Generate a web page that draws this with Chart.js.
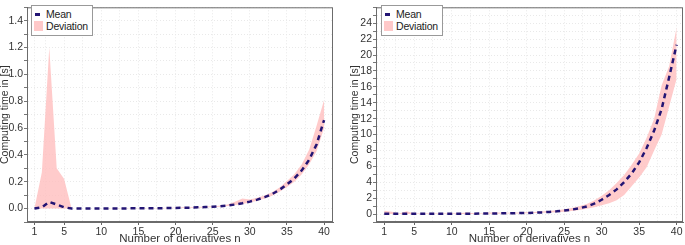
<!DOCTYPE html>
<html>
<head>
<meta charset="utf-8">
<script src="https://cdn.jsdelivr.net/npm/chart.js@4/dist/chart.umd.min.js"></script>
<style>
  body { margin: 0; background: #fff; width: 685px; height: 245px; overflow: hidden; font-family: "Liberation Sans", Arial, sans-serif; }
  .panel { position: absolute; top: 0; height: 245px; }
  .legend { position: absolute; top: 5px; background: #fff; border: 1px solid #999; padding: 2px 4px 3px 2px; font-size: 10.5px; letter-spacing: -0.2px; color: #222; }
  .legend .row { display: flex; align-items: center; height: 12px; }
  .legend .sym { display: inline-block; }
  .legend .dash { height: 3px; width: 5px; background: #231574; margin-left: 1px; margin-right: 6px; }
  .legend .box { height: 10px; width: 9px; background: #ffc9c9; margin-right: 3px; }
</style>
</head>
<body>
<div class="panel" style="left:0;width:340px"><canvas id="left" width="340" height="245"></canvas>
  <div class="legend" style="left:31px"><div class="row"><span class="sym dash"></span>Mean</div><div class="row"><span class="sym box"></span>Deviation</div></div>
</div>
<div class="panel" style="left:340px;width:345px"><canvas id="right" width="345" height="245"></canvas>
  <div class="legend" style="left:41px"><div class="row"><span class="sym dash"></span>Mean</div><div class="row"><span class="sym box"></span>Deviation</div></div>
</div>
<script>
// number of derivatives
const nValues = [1, 2, 3, 4, 5, 6, 7, 8, 9, 10, 11, 12, 13, 14, 15, 16, 17, 18, 19, 20,
                 21, 22, 23, 24, 25, 26, 27, 28, 29, 30, 31, 32, 33, 34, 35, 36, 37, 38, 39, 40];

// left panel
const leftMean = [0.000, 0.010, 0.050, 0.030, 0.010, 0.000, 0.000, 0.000, 0.000, 0.000,
                  0.001, 0.001, 0.001, 0.002, 0.002, 0.002, 0.003, 0.003, 0.004, 0.005,
                  0.006, 0.007, 0.009, 0.011, 0.014, 0.018, 0.023, 0.030, 0.040, 0.052,
                  0.067, 0.085, 0.108, 0.140, 0.180, 0.225, 0.285, 0.365, 0.480, 0.660];
const leftUpper = [0.000, 0.270, 1.200, 0.300, 0.220, 0.000, 0.001, 0.001, 0.001, 0.001,
                   0.002, 0.002, 0.002, 0.003, 0.003, 0.003, 0.004, 0.005, 0.006, 0.007,
                   0.009, 0.010, 0.012, 0.015, 0.018, 0.022, 0.030, 0.050, 0.075, 0.068,
                   0.080, 0.098, 0.122, 0.158, 0.205, 0.255, 0.330, 0.440, 0.620, 0.810];
const leftLower = [0.000, 0.000, 0.000, 0.000, 0.000, 0.000, 0.000, 0.000, 0.000, 0.000,
                   0.000, 0.000, 0.000, 0.001, 0.001, 0.001, 0.002, 0.002, 0.003, 0.004,
                   0.004, 0.005, 0.007, 0.008, 0.011, 0.014, 0.020, 0.026, 0.034, 0.045,
                   0.058, 0.075, 0.095, 0.125, 0.160, 0.200, 0.255, 0.330, 0.430, 0.600];

// right panel
const rightMean = [0.05, 0.04, 0.03, 0.04, 0.04, 0.04, 0.04, 0.04, 0.04, 0.04,
                   0.05, 0.05, 0.05, 0.06, 0.07, 0.08, 0.09, 0.10, 0.12, 0.14,
                   0.17, 0.21, 0.27, 0.34, 0.44, 0.56, 0.72, 0.95, 1.30, 1.80,
                   2.40, 3.10, 4.00, 5.10, 6.50, 8.30, 10.5, 13.2, 17.2, 21.3];
const rightUpper = [0.40, 0.30, 0.08, 0.35, 0.08, 0.06, 0.06, 0.06, 0.06, 0.07,
                    0.10, 0.20, 0.10, 0.10, 0.20, 0.20, 0.15, 0.17, 0.20, 0.22,
                    0.26, 0.31, 0.38, 0.47, 0.60, 0.76, 0.97, 1.27, 1.70, 2.30,
                    3.00, 3.90, 4.90, 6.20, 7.60, 9.60, 12.0, 16.2, 18.6, 23.5];
const rightLower = [0.00, 0.00, 0.00, 0.00, 0.00, 0.00, 0.00, 0.00, 0.00, 0.00,
                    0.02, 0.02, 0.02, 0.03, 0.04, 0.05, 0.06, 0.07, 0.08, 0.10,
                    0.12, 0.15, 0.19, 0.24, 0.30, 0.38, 0.50, 0.66, 0.85, 1.10,
                    1.35, 1.75, 2.40, 3.50, 4.60, 5.90, 8.00, 10.0, 13.5, 17.0];

// ticks
const xTicks = [1, 2.5, 5, 7.5, 10, 12.5, 15, 17.5, 20, 22.5, 25, 27.5, 30, 32.5, 35, 37.5, 40];
const xLabels = [1, 5, 10, 15, 20, 25, 30, 35, 40];
const leftYLabels = ['0.0', '0.2', '0.4', '0.6', '0.8', '1.0', '1.2', '1.4'];
const rightYLabels = ['0', '2', '4', '6', '8', '10', '12', '14', '16', '18', '20', '22', '24'];
// grid positions for y (minor + major)
const leftYGrid = [-0.1, 0, 0.1, 0.2, 0.3, 0.4, 0.5, 0.6, 0.7, 0.8, 0.9, 1.0, 1.1, 1.2, 1.3, 1.4, 1.5];
const rightYGrid = [-1, 0, 1, 2, 3, 4, 5, 6, 7, 8, 9, 10, 11, 12, 13, 14, 15, 16, 17, 18, 19, 20, 21, 22, 23, 24, 25, 26];

const FONT = '"Liberation Sans", Arial, sans-serif';
const MEAN_COLOR = '#231574';
const BAND_COLOR = 'rgba(255, 190, 190, 0.8)';

function points(ys) {
    return ys.map((y, i) => ({ x: nValues[i], y: y }));
}

const framePlugin = {
    id: 'frame',
    afterDraw(chart) {
        const a = chart.chartArea;
        const ctx = chart.ctx;
        ctx.save();
        ctx.strokeStyle = '#6b6b6b';
        ctx.lineWidth = 1;
        ctx.strokeRect(a.left + 0.5, a.top + 0.5, a.right - a.left - 1, a.bottom - a.top - 1);
        ctx.restore();
    }
};

function makeChart(id, mean, upper, lower, yOpts, xOpts, yWidth, padding) {
    const yLabelSet = yOpts.labels;
    new Chart(document.getElementById(id), {
        type: 'line',
        data: {
            datasets: [
                {
                    label: 'Mean',
                    data: points(mean),
                    borderColor: MEAN_COLOR,
                    borderWidth: 2.5,
                    borderDash: [5, 4],
                    pointRadius: 0,
                    fill: false,
                    tension: 0
                },
                {
                    label: 'Deviation',
                    data: points(upper),
                    borderWidth: 0,
                    borderColor: 'rgba(0,0,0,0)',
                    backgroundColor: BAND_COLOR,
                    pointRadius: 0,
                    fill: '+1',
                    tension: 0
                },
                {
                    label: 'lower',
                    data: points(lower),
                    borderWidth: 0,
                    borderColor: 'rgba(0,0,0,0)',
                    pointRadius: 0,
                    fill: false,
                    tension: 0
                }
            ]
        },
        options: {
            responsive: false,
            animation: false,
            layout: { padding: padding },
            plugins: { legend: { display: false }, tooltip: { enabled: false } },
            scales: {
                x: {
                    type: 'linear',
                    min: xOpts.min,
                    max: xOpts.max,
                    afterBuildTicks: s => { s.ticks = xTicks.map(v => ({ value: v })); },
                    afterFit: s => { s.height = 23; },
                    ticks: {
                        autoSkip: false,
                        maxRotation: 0,
                        padding: 1,
                        color: '#333',
                        font: { family: FONT, size: 10.5 },
                        callback: v => xLabels.includes(v) ? String(v) : ''
                    },
                    grid: {
                        color: '#e9e9e9',
                        tickLength: 3,
                        tickColor: c => (c.tick && xLabels.includes(c.tick.value)) ? '#666' : 'rgba(0,0,0,0)'
                    },
                    border: { color: '#6b6b6b', dash: [1, 2] },
                    title: {
                        display: true,
                        text: 'Number of derivatives n',
                        color: '#333',
                        padding: 0,
                        font: { family: FONT, size: 11.5, lineHeight: 1 }
                    }
                },
                y: {
                    min: yOpts.min,
                    max: yOpts.max,
                    afterBuildTicks: s => { s.ticks = yOpts.grid.map(v => ({ value: v })); },
                    afterFit: s => { s.width = yWidth; },
                    ticks: {
                        autoSkip: false,
                        padding: 1,
                        color: '#333',
                        font: { family: FONT, size: 10.5 },
                        callback: v => {
                            const t = yOpts.fmt(v);
                            return yLabelSet.includes(t) ? t : '';
                        }
                    },
                    grid: {
                        color: '#e9e9e9',
                        tickLength: 3,
                        tickColor: '#777'
                    },
                    border: { color: '#6b6b6b', dash: [1, 2] },
                    title: {
                        display: true,
                        text: 'Computing time in [s]',
                        color: '#333',
                        padding: 0,
                        font: { family: FONT, size: 10.5, lineHeight: 1 }
                    }
                }
            }
        },
        plugins: [framePlugin]
    });
}

makeChart('left', leftMean, leftUpper, leftLower,
    { min: -0.1, max: 1.5, grid: leftYGrid, labels: leftYLabels, fmt: v => v.toFixed(1) },
    { min: 0, max: 41.2 }, 27, { top: 1, right: 7, left: 0, bottom: 0 });

makeChart('right', rightMean, rightUpper, rightLower,
    { min: -1, max: 26, grid: rightYGrid, labels: rightYLabels, fmt: v => String(Math.round(v)) },
    { min: -0.1, max: 40.85 }, 26, { top: 1, right: 2, left: 10, bottom: 0 });
</script>
</body>
</html>
